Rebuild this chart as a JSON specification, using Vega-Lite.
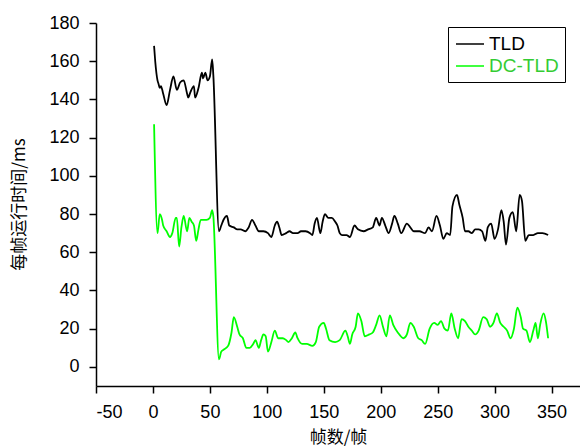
{
  "$schema": "https://vega.github.io/schema/vega-lite/v6.json",
  "width": 484,
  "height": 363,
  "autosize": {"type": "none"},
  "padding": {"left": 96, "top": 23, "right": 0, "bottom": 62},
  "background": "white",
  "config": {
    "view": {"stroke": null},
    "font": "Liberation Sans"
  },
  "datasets": {
    "tld": [
      [1,168],[2,160],[4,150],[5,148],[6,146],[7,147],[9,143],[12,137],[15,145],[18,152],[21,145],[24,149],[27,150],[30,143],[31,141],[33,144],[36,147],[37,141],[40,146],[43,154],[44,151],[46,154],[48,150],[50,152],[52,161],[53,153],
      [58,71],[60,74],[62,77],[65,79],[67,74],[71,73],[74,72],[77,72],[81,71],[84,73],[87,77],[90,74],[93,71],[97,71],[101,70],[104,68],[107,74],[109,76],[111,73],[113,69],[117,70],[120,71],[123,70],[127,70],[130,71],[134,71],[138,70],[140,69],[142,75],[144,78],[147,70],[149,76],[151,80],[154,78],[157,78],[160,76],[162,74],[164,70],[166,69],[170,69],[173,68],[177,74],[180,72],[185,71],[189,72],[193,73],[196,78],[199,74],[201,78],[204,74],[207,70],[210,75],[212,79],[215,75],[218,70],[223,75],[226,73],[229,71],[234,71],[239,70],[242,73],[245,71],[249,79],[252,74],[255,67],[258,70],[261,69],[263,84],[267,90],[269,85],[272,78],[274,71],[277,71],[280,70],[283,72],[286,72],[289,71],[292,66],[294,73],[297,75],[300,67],[303,72],[306,82],[308,76],[310,64],[313,78],[316,81],[319,71],[322,90],[324,87],[327,66],[330,69],[334,69],[338,70],[342,70],[347,69]
    ],
    "dctld": [
      [1,127],[4,70],[6,80],[8,77],[9,74],[12,71],[15,68],[17,70],[20,78],[21,78],[23,63],[25,73],[27,79],[30,71],[32,78],[34,76],[36,74],[38,66],[40,72],[42,77],[45,77],[47,77],[50,78],[52,82],[53,79],
      [58,4],[60,8],[62,9],[66,11],[69,18],[71,26],[74,21],[76,17],[79,15],[82,10],[85,10],[88,12],[90,14],[93,10],[95,14],[97,17],[99,16],[101,8],[104,13],[107,19],[110,15],[114,15],[117,14],[119,13],[122,15],[125,18],[127,15],[131,12],[135,12],[140,11],[143,13],[146,21],[150,23],[152,20],[155,14],[160,13],[164,14],[169,19],[171,16],[173,12],[175,17],[178,21],[180,28],[183,24],[186,16],[190,17],[193,18],[196,22],[199,27],[202,21],[205,16],[208,27],[211,22],[215,18],[220,15],[223,17],[226,23],[229,21],[233,15],[236,14],[239,12],[243,20],[247,23],[250,22],[253,24],[256,20],[259,19],[262,28],[265,20],[268,15],[271,25],[274,24],[277,21],[280,19],[283,17],[286,19],[290,26],[293,25],[296,21],[299,23],[302,28],[305,23],[308,21],[311,19],[314,15],[317,20],[320,31],[323,26],[325,20],[328,19],[331,13],[334,19],[336,23],[338,15],[340,22],[343,28],[345,24],[347,15]
    ]
  },
  "data": {"values": []},
  "layer": [
    {
      "data": {"name": "tld"},
      "transform": [
        {"calculate": "datum[0]", "as": "frame"},
        {"calculate": "datum[1]", "as": "time"},
        {"calculate": "'TLD'", "as": "method"}
      ],
      "mark": {"type": "line", "strokeWidth": 1.8, "interpolate": "monotone"},
      "encoding": {
        "x": {"field": "frame", "type": "quantitative"},
        "y": {"field": "time", "type": "quantitative"},
        "color": {"field": "method", "type": "nominal"}
      }
    },
    {
      "data": {"name": "dctld"},
      "transform": [
        {"calculate": "datum[0]", "as": "frame"},
        {"calculate": "datum[1]", "as": "time"},
        {"calculate": "'DC-TLD'", "as": "method"}
      ],
      "mark": {"type": "line", "strokeWidth": 1.8, "interpolate": "monotone"},
      "encoding": {
        "x": {
          "field": "frame", "type": "quantitative",
          "scale": {"domain": [-50, 375], "nice": false, "zero": false},
          "axis": {
            "title": "帧数/帧",
            "titleFont": "Noto Sans CJK SC", "titleFontSize": 17, "titleFontWeight": "normal", "titleColor": "black",
            "titleY": 51, "titleBaseline": "middle",
            "values": [-50,-25,0,25,50,75,100,125,150,175,200,225,250,275,300,325,350],
            "labelExpr": "datum.value % 50 === 0 ? '' + datum.value : ''",
            "labelFontSize": 18, "labelColor": "black", "labelPadding": 10,
            "tickSize": {"expr": "datum.value % 50 === 0 ? 7 : 4"},
            "tickColor": "black", "tickWidth": 1.5,
            "domainColor": "black", "domainWidth": 1.5,
            "grid": false
          }
        },
        "y": {
          "field": "time", "type": "quantitative",
          "scale": {"domain": [-10, 180], "nice": false, "zero": false},
          "axis": {
            "title": "每帧运行时间/ms",
            "titleFont": "Noto Sans CJK SC", "titleFontSize": 17, "titleFontWeight": "normal", "titleColor": "black",
            "titleX": -77, "titleY": 181, "titleAngle": -90, "titleAlign": "center", "titleBaseline": "middle",
            "values": [0,10,20,30,40,50,60,70,80,90,100,110,120,130,140,150,160,170,180],
            "labelExpr": "datum.value % 20 === 0 ? '' + datum.value : ''",
            "labelFontSize": 18, "labelColor": "black", "labelPadding": 10,
            "tickSize": {"expr": "datum.value % 20 === 0 ? 7 : 4"},
            "tickColor": "black", "tickWidth": 1.5,
            "domainColor": "black", "domainWidth": 1.5,
            "grid": false
          }
        },
        "color": {
          "field": "method", "type": "nominal",
          "scale": {"domain": ["TLD", "DC-TLD"], "range": ["#000000", "#00ff00"]},
          "legend": {
            "title": null,
            "orient": "none", "legendX": 352, "legendY": 4,
            "strokeColor": "black", "fillColor": "white", "padding": 6,
            "symbolType": "M-0.9,0H1.9", "symbolSize": 400, "symbolStrokeWidth": 1.5,
            "labelFontSize": 19, "labelOffset": 13, "rowPadding": 1,
            "encode": {
              "labels": {"update": {"fill": {"signal": "datum.label === 'DC-TLD' ? '#33cc33' : '#000000'"}}}
            }
          }
        }
      }
    }
  ]
}
